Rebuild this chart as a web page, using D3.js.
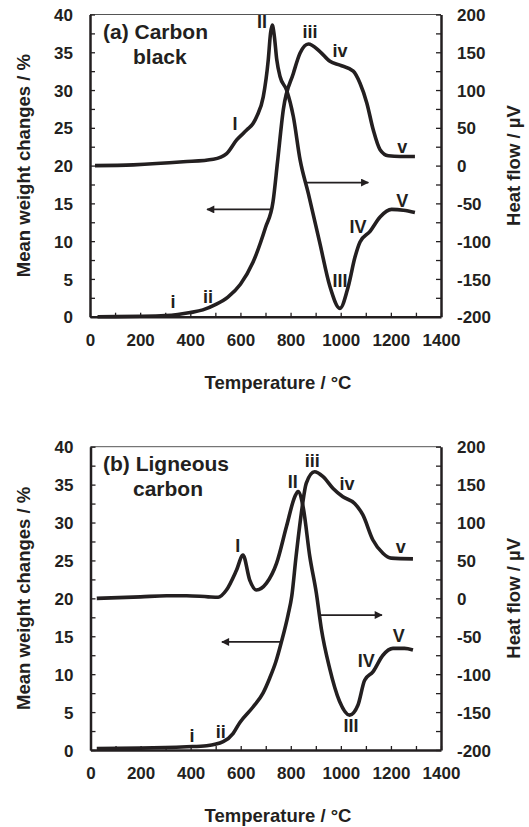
<!DOCTYPE html>
<html>
<head>
<meta charset="utf-8">
<script src="https://d3js.org/d3.v7.min.js"></script>
<style>
  body { margin: 0; background: #fff; }
  svg text { font-family: "Liberation Sans", Arial, sans-serif; font-weight: bold; fill: #231f20; }
</style>
</head>
<body>
<div id="chart"></div>
<script>
// (a) carbon black : weight (left axis, %) and heat flow (right axis, µV)
var aWeightT = [30, 200, 300, 350, 400, 450, 500, 550, 600, 650, 700, 730, 748, 771, 811, 838, 871, 917, 957, 997, 1050, 1077, 1104, 1130, 1157, 1190, 1237, 1296];
var aWeight  = [0, 0.05, 0.15, 0.3, 0.55, 0.9, 1.6, 2.6, 4.3, 7.2, 11.8, 15.2, 20.5, 27.4, 32.2, 34.9, 36.1, 35.1, 33.8, 33.3, 32.5, 30.9, 28.3, 24.7, 22.1, 21.3, 21.2, 21.2];
var aHeatT = [20, 173, 372, 492, 545, 585, 625, 651, 665, 691, 711, 720, 727, 735, 745, 758, 784, 811, 838, 871, 917, 957, 997, 1030, 1057, 1077, 1117, 1157, 1203, 1250, 1296];
var aHeat  = [0, 1, 5, 8.5, 16, 34, 47, 56, 65, 91, 140, 175, 186, 172, 140, 118, 100, 65, 7.5, -37, -103, -160, -189, -160, -121, -101, -87, -68, -58, -59, -62];

// (b) ligneous carbon
var bWeightT = [25, 200, 384, 464, 530, 570, 596, 650, 689, 716, 740, 763, 789, 804, 821, 842, 862, 895, 929, 969, 1008, 1055, 1088, 1128, 1168, 1201, 1288];
var bWeight  = [0.2, 0.25, 0.43, 0.57, 1.1, 2.2, 3.6, 5.7, 7.5, 9.5, 11.6, 14.3, 17.8, 20.3, 25.5, 31.2, 35.2, 36.7, 36.05, 34.5, 33.4, 32.5, 31, 27.7, 25.95, 25.3, 25.2];
var bHeatT = [25, 200, 304, 384, 470, 510, 543, 583, 609, 636, 663, 703, 743, 783, 816, 829, 849, 876, 902, 922, 955, 995, 1035, 1068, 1095, 1128, 1168, 1208, 1254, 1288];
var bHeat  = [0, 2, 3.5, 3.5, 2, 1.5, 11, 37, 57, 24, 11, 20, 46, 95, 134, 141, 121, 55, 7, -40, -92, -136, -154, -141, -108, -97, -75, -66, -66, -68];

// peak labels: text, temperature, value on the left axis (baseline)
var aLabels = [["I", 578, 24.7], ["II", 686, 38.2], ["iii", 878, 36.9], ["iv", 997, 34.4], ["v", 1245, 21.7],
               ["V", 1245, 14.5], ["IV", 1069, 11.1], ["III", 997, 3.9], ["i", 331, 1.15], ["ii", 471, 1.8]];
var bLabels = [["I", 588, 26.1], ["II", 808, 34.6], ["iii", 886, 37.3], ["iv", 1025, 34.3], ["v", 1239, 26],
               ["V", 1231, 14.25], ["IV", 1101, 10.95], ["III", 1041, 2.4], ["i", 405, 1.05], ["ii", 520, 1.6]];

// arrows: [from T, to T, left-axis value]
var aArrows = [[718, 467, 14.2], [858, 1110, 17.75]];
var bArrows = [[764, 525, 14.25], [915, 1164, 17.8]];

var xTicks = d3.range(0, 1401, 100);
var yLeftTicks = d3.range(0, 40.01, 2.5);
var yRightTicks = d3.range(-200, 200.01, 25);

var svg = d3.select("#chart").append("svg")
  .attr("width", 529).attr("height", 827);

svg.append("defs").append("marker")
  .attr("id", "head")
  .attr("viewBox", "0 0 10 10")
  .attr("refX", 9).attr("refY", 5)
  .attr("markerWidth", 10).attr("markerHeight", 8)
  .attr("markerUnits", "userSpaceOnUse")
  .attr("orient", "auto")
  .append("path").attr("d", "M0,0L10,5L0,10Z").attr("fill", "#231f20");

function panel(p) {
  var x = d3.scaleLinear().domain([0, 1400]).range([p.left, 441]);
  var yL = d3.scaleLinear().domain([0, 40]).range([p.bottom, p.top]);
  var yR = d3.scaleLinear().domain([-200, 200]).range([p.bottom, p.top]);
  var g = svg.append("g");

  // thin top frame
  g.append("line").attr("x1", p.left).attr("x2", 441).attr("y1", p.top).attr("y2", p.top)
    .attr("stroke", "#555").attr("stroke-width", 1);

  var ax = g.append("g").attr("transform", "translate(0," + p.bottom + ")")
    .call(d3.axisBottom(x).tickValues(xTicks).tickSizeInner(-4).tickSizeOuter(0).tickPadding(5)
      .tickFormat(function(d) { return d % 200 == 0 ? d : ""; }));
  var al = g.append("g").attr("transform", "translate(" + p.left + ",0)")
    .call(d3.axisLeft(yL).tickValues(yLeftTicks).tickSizeInner(-5).tickSizeOuter(0).tickPadding(17)
      .tickFormat(function(d) { return d % 5 == 0 ? d : ""; }));
  var ar = g.append("g").attr("transform", "translate(441,0)")
    .call(d3.axisRight(yR).tickValues(yRightTicks).tickSizeInner(-5).tickSizeOuter(0).tickPadding(16)
      .tickFormat(function(d) { return d % 50 == 0 ? d : ""; }));

  [ax, al, ar].forEach(function(a) {
    a.select(".domain").attr("stroke", "#231f20").attr("stroke-width", 2.5);
    a.selectAll(".tick line").attr("stroke", "#231f20").attr("stroke-width", 1.3);
    a.selectAll("text").attr("font-size", 17).attr("font-family", null).attr("fill", "#231f20");
  });
  ax.selectAll("text").attr("dy", null).attr("y", 17 + 12.3);
  al.selectAll("text").attr("dy", "0.36em");
  ar.selectAll("text").attr("dy", "0.36em");

  var lineW = d3.line().x(function(d) { return x(d[0]); }).y(function(d) { return yL(d[1]); }).curve(d3.curveMonotoneX);
  var lineH = d3.line().x(function(d) { return x(d[0]); }).y(function(d) { return yR(d[1]); }).curve(d3.curveMonotoneX);

  g.append("path").datum(d3.zip(p.wT, p.w)).attr("d", lineW)
    .attr("fill", "none").attr("stroke", "#231f20").attr("stroke-width", 3.6).attr("stroke-linejoin", "round");
  g.append("path").datum(d3.zip(p.hT, p.h)).attr("d", lineH)
    .attr("fill", "none").attr("stroke", "#231f20").attr("stroke-width", 3.6).attr("stroke-linejoin", "round");

  g.selectAll(".arrow").data(p.arrows).enter().append("line")
    .attr("x1", function(d) { return x(d[0]); }).attr("x2", function(d) { return x(d[1]); })
    .attr("y1", function(d) { return yL(d[2]); }).attr("y2", function(d) { return yL(d[2]); })
    .attr("stroke", "#231f20").attr("stroke-width", 1.8).attr("marker-end", "url(#head)");

  g.selectAll(".lab").data(p.labels).enter().append("text")
    .attr("x", function(d) { return x(d[1]); }).attr("y", function(d) { return yL(d[2]); })
    .attr("text-anchor", "middle").attr("font-size", 18).text(function(d) { return d[0]; });

  g.append("text").attr("x", 103).attr("y", p.top + 24).attr("font-size", 21).text(p.title1);
  g.append("text").attr("x", 133).attr("y", p.top + 49).attr("font-size", 21).text(p.title2);

  var mid = (p.top + p.bottom) / 2;
  g.append("text").attr("transform", "translate(30," + mid + ") rotate(-90)")
    .attr("text-anchor", "middle").attr("font-size", 18.5).text("Mean weight changes / %");
  g.append("text").attr("transform", "translate(520," + mid + ") rotate(-90)")
    .attr("text-anchor", "middle").attr("font-size", 18.5).text("Heat flow / µV");
  g.append("text").attr("x", 278).attr("y", p.bottom + 72).attr("text-anchor", "middle")
    .attr("font-size", 18.5).text("Temperature / °C");
}

panel({ left: 90, top: 14.5, bottom: 316.7, wT: aWeightT, w: aWeight, hT: aHeatT, h: aHeat,
        labels: aLabels, arrows: aArrows, title1: "(a) Carbon", title2: "black" });
panel({ left: 90.5, top: 446.7, bottom: 750, wT: bWeightT, w: bWeight, hT: bHeatT, h: bHeat,
        labels: bLabels, arrows: bArrows, title1: "(b) Ligneous", title2: "carbon" });
</script>
</body>
</html>
